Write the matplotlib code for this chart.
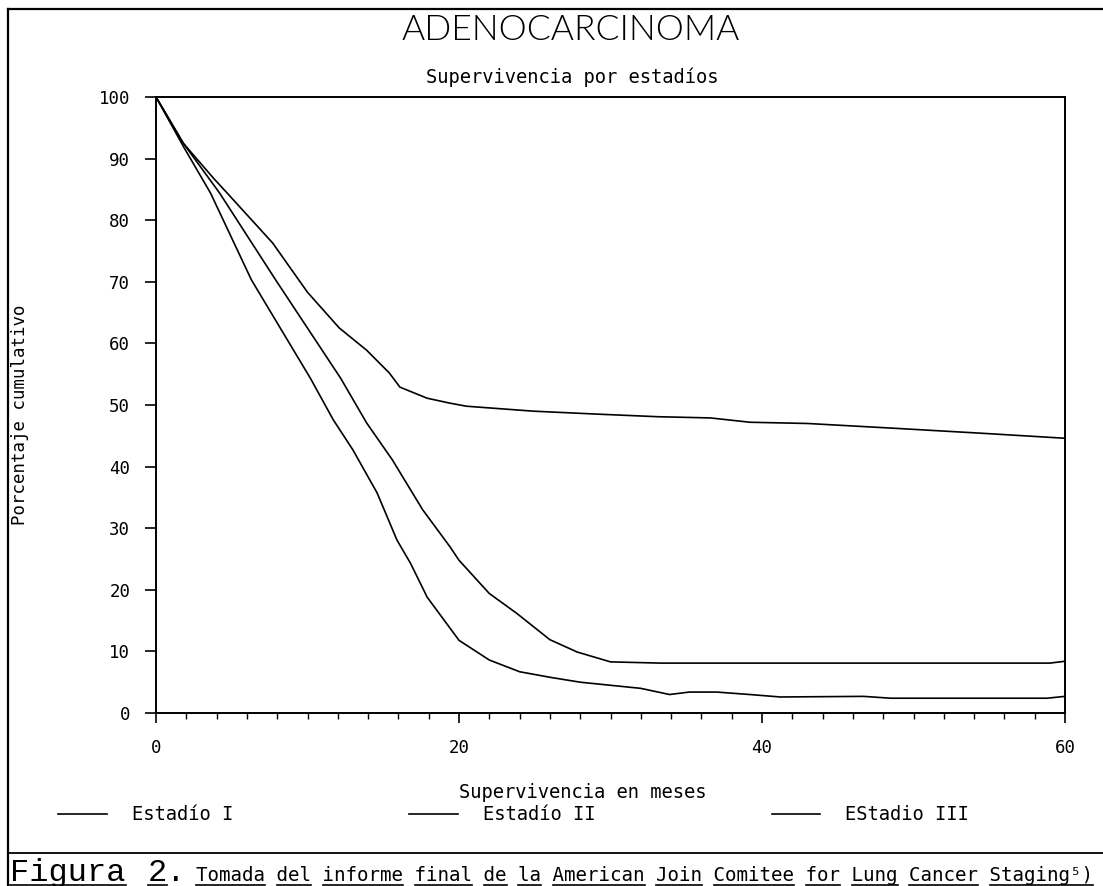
import matplotlib
matplotlib.use('Agg')
import matplotlib.pyplot as plt
from matplotlib.lines import Line2D
from matplotlib.ticker import MultipleLocator

W, H = 1103, 886

title = "ADENOCARCINOMA"
subtitle = "Supervivencia por estadíos"
xlabel = "Supervivencia en meses"
ylabel = "Porcentaje cumulativo"
series_labels = ["Estadío I", "Estadío II", "EStadio III"]

months_I = [0, 1.8, 3.8, 4.7, 7.7, 10.0, 12.1, 13.9, 15.4, 16.1, 17.9, 19.4, 20.5,
            24.9, 29.3, 33.1, 36.6, 39.2, 43.0, 48.9, 54.6, 60]
surv_I = [100, 92.5, 86.8, 84.4, 76.3, 68.3, 62.5, 58.9, 55.2, 52.9, 51.1, 50.3, 49.8,
          49.0, 48.5, 48.1, 47.9, 47.2, 47.0, 46.2, 45.4, 44.6]

months_II = [0, 1.8, 4.2, 7.9, 12.2, 13.9, 15.6, 17.6, 19.4, 20.0, 22.0, 23.8, 26.0,
             27.8, 30.0, 33.3, 40.0, 50.0, 59.0, 60]
surv_II = [100, 92.5, 84.4, 70.3, 54.3, 47.1, 41.1, 33.0, 27.0, 24.8, 19.4, 16.2, 11.9,
           9.9, 8.3, 8.1, 8.1, 8.1, 8.1, 8.4]

months_III = [0, 1.8, 3.6, 6.3, 10.2, 11.7, 13.0, 14.6, 15.9, 16.8, 17.9, 19.4, 20.0,
              22.0, 24.0, 26.0, 28.0, 30.0, 32.0, 33.9, 35.2, 37.0, 39.2, 41.2, 46.7,
              48.5, 58.8, 60]
surv_III = [100, 92.0, 84.4, 70.3, 54.3, 47.6, 42.7, 35.7, 28.1, 24.3, 18.8, 13.8, 11.8,
            8.6, 6.7, 5.8, 5.0, 4.5, 4.0, 3.0, 3.4, 3.4, 3.0, 2.6, 2.7,
            2.4, 2.4, 2.7]

x_ticks = [0, 20, 40, 60]
y_ticks = [0, 10, 20, 30, 40, 50, 60, 70, 80, 90, 100]

caption_head = ["Figura", "2."]
caption_tail = "Tomada del informe final de la American Join Comitee for Lung Cancer Staging⁵)"

MONO = ['DejaVu Sans Mono', 'DejaVu Sans']


def fx(px):
    return px / W


def fy(py):
    return 1 - py / H


fig = plt.figure(figsize=(W / 100, H / 100), dpi=100)
fig.patch.set_facecolor('white')

ax = fig.add_axes([fx(156), fy(713), fx(1065) - fx(156), fy(97) - fy(713)])
handles = []
for m, s, lab in zip([months_I, months_II, months_III],
                     [surv_I, surv_II, surv_III], series_labels):
    h, = ax.plot(m, s, color='black', lw=1.2, label=lab)
    handles.append(h)

ax.set_xlim(0, 60)
ax.set_ylim(0, 100)
ax.set_xticks(x_ticks)
ax.set_xticklabels([str(v) for v in x_ticks])
ax.xaxis.set_minor_locator(MultipleLocator(2))
ax.set_yticks(y_ticks)
ax.set_yticklabels([str(v) for v in y_ticks])
ax.tick_params(axis='x', which='major', direction='out', length=7.5, width=1.2,
               pad=11, labelsize=12.5)
ax.tick_params(axis='x', which='minor', direction='out', length=4.3, width=1.0)
ax.tick_params(axis='y', which='major', direction='out', length=8, width=1.2,
               pad=10.5, labelsize=12.5)
for lbl in ax.get_xticklabels() + ax.get_yticklabels():
    lbl.set_family(MONO)
for sp in ax.spines.values():
    sp.set_linewidth(1.4)
    sp.set_color('black')

# titles and labels
fig.text(fx(571), fy(30), title, ha='center', va='center', fontsize=25.5,
         family=['Lato', 'DejaVu Sans'], fontweight=300, color='black')
fig.text(fx(572), fy(77), subtitle, ha='center', va='center', fontsize=13.5,
         family=MONO)
fig.text(fx(583), fy(792), xlabel, ha='center', va='center', fontsize=13.5,
         family=MONO)
fig.text(fx(20), fy(415), ylabel, ha='center', va='center', fontsize=12.5,
         family=MONO, rotation=90)

fig.legend(handles, series_labels, loc='center left',
           bbox_to_anchor=(fx(58), fy(815)), ncol=3, frameon=False,
           handlelength=2.6, handletextpad=1.33, columnspacing=9.4,
           borderpad=0, borderaxespad=0,
           prop={'family': MONO, 'size': 13.5})

# outer frame lines
fig.add_artist(Line2D([fx(8), fx(1103)], [fy(9), fy(9)], color='black', lw=1.6,
                      transform=fig.transFigure))
fig.add_artist(Line2D([fx(8), fx(8)], [fy(9), fy(886)], color='black', lw=1.6,
                      transform=fig.transFigure))
fig.add_artist(Line2D([fx(8), fx(1103)], [fy(853), fy(853)], color='black', lw=1.3,
                      transform=fig.transFigure))

# caption
t_fig = fig.text(fx(10), fy(881), caption_head[0], ha='left', va='baseline',
                 fontsize=23, family=['Liberation Mono', 'DejaVu Sans Mono'])
t_num = fig.text(fx(148), fy(881), caption_head[1], ha='left', va='baseline',
                 fontsize=23, family=['Liberation Mono', 'DejaVu Sans Mono'])
t_tail = fig.text(fx(196), fy(881), caption_tail, ha='left', va='baseline',
                  fontsize=13.8, family=MONO)

fig.canvas.draw()
renderer = fig.canvas.get_renderer()
ul_y = fy(884.5)


def underline(x0px, x1px):
    fig.add_artist(Line2D([x0px / W, x1px / W], [ul_y, ul_y], color='black', lw=1.2,
                          transform=fig.transFigure))


bb = t_fig.get_window_extent(renderer)
underline(bb.x0, bb.x1)
bb = t_num.get_window_extent(renderer)
underline(bb.x0, bb.x0 + bb.width / 2)

bb = t_tail.get_window_extent(renderer)
cw = bb.width / len(caption_tail)
idx = 0
for word in caption_tail.split(' '):
    x0 = bb.x0 + idx * cw
    underline(x0, x0 + len(word) * cw)
    idx += len(word) + 1

fig.savefig('out.png', dpi=100, facecolor='white')
